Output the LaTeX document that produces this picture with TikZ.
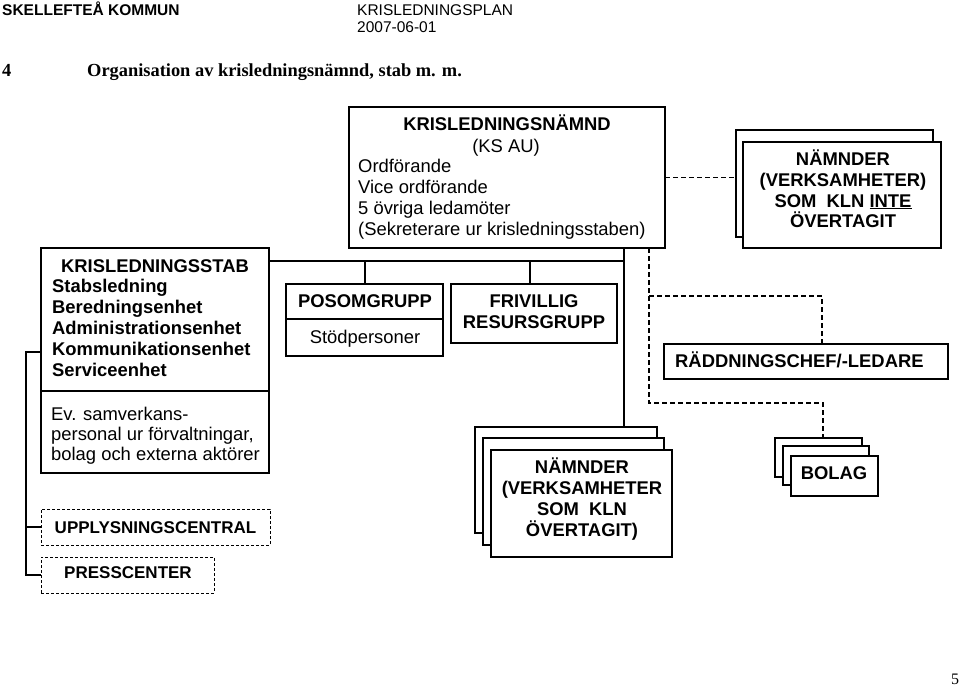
\documentclass[tikz,border=0pt]{standalone}
\usepackage{fontspec}
\setmainfont{Liberation Serif}
\setsansfont{Liberation Sans}
\newcommand{\myfs}[1]{\fontsize{#1}{#1}\selectfont}
\begin{document}
\begin{tikzpicture}[x=1pt,y=-1pt,
  box/.style={draw, line width=1.3pt, anchor=north west, inner sep=0pt, outer sep=0pt, fill=white},
  dbox/.style={draw, line width=1pt, dash pattern=on 3pt off 2pt, anchor=north west, inner sep=0pt, outer sep=0pt},
  conn/.style={line width=1.3pt},
  dconn/.style={line width=1.1pt, dash pattern=on 5pt off 3pt},
  txt/.style={anchor=base, inner sep=0pt, font=\sffamily\myfs{18.4}},
  txtl/.style={txt, anchor=base west},
  btxt/.style={anchor=base, inner sep=0pt, font=\sffamily\bfseries\myfs{18.4}},
  btxtl/.style={btxt, anchor=base west},
  stxt/.style={anchor=base, inner sep=0pt, font=\sffamily\bfseries\myfs{17}},
  hdr/.style={anchor=base west, inner sep=0pt},
]
\fill[white] (0,0) rectangle (960,690);
\useasboundingbox (0,0) rectangle (960,690);

% header
\node[hdr, font=\sffamily\bfseries\myfs{15.5}] (h1) at (2,16) {SKELLEFTEÅ KOMMUN};
\node[hdr, font=\sffamily\myfs{15.5}] (h2) at (357,16) {KRISLEDNINGSPLAN};
\node[hdr, font=\sffamily\myfs{15.5}] (h3) at (357,33) {2007-06-01};
\node[hdr, font=\rmfamily\bfseries\myfs{18.4}] (h4) at (2,77) {4};
\node[hdr, font=\rmfamily\bfseries\myfs{18.4}] (h5) at (87,77) {Organisation av krisledningsnämnd, stab m. m.};
\node[hdr, font=\rmfamily\myfs{16}] (pg) at (951,684) {5};

% boxes
\node[box, minimum width=316pt, minimum height=141pt] (nmd) at (349,107) {};
\node[box, minimum width=228pt, minimum height=225pt] (stab) at (41,248) {};
\node[box, minimum width=157pt, minimum height=72pt] (posom) at (286,284) {};
\node[box, minimum width=166pt, minimum height=59pt] (friv) at (451,284) {};
\node[box, minimum width=197pt, minimum height=107pt] (nam1b) at (736,130) {};
\node[box, minimum width=198pt, minimum height=106pt] (nam1f) at (743,142) {};
\node[box, minimum width=284pt, minimum height=35pt] (radd) at (664,344) {};
\node[box, minimum width=182pt, minimum height=106pt] (nam2b) at (475,427) {};
\node[box, minimum width=181pt, minimum height=107pt] (nam2m) at (483,438) {};
\node[box, minimum width=181pt, minimum height=107pt] (nam2f) at (491,450) {};
\node[box, minimum width=87pt, minimum height=39pt] (bolagb) at (775,438) {};
\node[box, minimum width=86pt, minimum height=39pt] (bolagm) at (783,446) {};
\node[box, minimum width=87pt, minimum height=40pt] (bolagf) at (791,456) {};
\node[dbox, minimum width=229pt, minimum height=36pt] (upply) at (41,509) {};
\node[dbox, minimum width=173pt, minimum height=36pt] (press) at (41,557) {};

% dividers
\coordinate (sd) at (0,391);
\coordinate (pd) at (0,319);
\draw[conn] (stab.west |- sd) -- (stab.east |- sd);
\draw[conn] (posom.west |- pd) -- (posom.east |- pd);

% solid connectors
\coordinate (jR) at (624,261);
\coordinate (jF) at (530,261);
\coordinate (jP) at (365,261);
\coordinate (jL) at (26,352);
\draw[conn] (stab.east |- jR) -- (jR);
\draw[conn] (jR |- nmd.south) -- (jR |- nam2b.north);
\draw[conn] (jP) -- (jP |- posom.north);
\draw[conn] (jF) -- (jF |- friv.north);
\draw[conn] (stab.west |- jL) -- (jL) -- (jL |- press.west) -- (press.west);
\draw[conn] (jL |- upply.west) -- (upply.west);

% dashed connectors
\coordinate (dB) at (649,296);
\coordinate (dC) at (649,403);
\coordinate (dD) at (822,296);
\coordinate (dE) at (823,403);
\draw[dconn] (nmd.east) -- (nmd.east -| nam1b.west);
\draw[dconn] (dB |- nmd.south) -- (dC) -- (dE) -- (dE |- bolagb.north);
\draw[dconn] (dB) -- (dD) -- (dD |- radd.north);

% texts: krisledningsnamnd
\node[btxt] (n1) at (507,130) {KRISLEDNINGSNÄMND};
\node[txt] (n2) at (506,152) {(KS AU)};
\node[txtl] (n3) at (358,172) {Ordförande};
\node[txtl] (n4) at (358,193) {Vice ordförande};
\node[txtl] (n5) at (358,214) {5 övriga ledamöter};
\node[txtl] (n6) at (358,235) {(Sekreterare ur krisledningsstaben)};

% krisledningsstab
\node[btxt] (s1) at (155,272) {KRISLEDNINGSSTAB};
\node[btxtl] (s2) at (52,292) {Stabsledning};
\node[btxtl] (s3) at (52,313) {Beredningsenhet};
\node[btxtl] (s4) at (52,334) {Administrationsenhet};
\node[btxtl] (s5) at (52,355) {Kommunikationsenhet};
\node[btxtl] (s6) at (52,376) {Serviceenhet};
\node[txtl] (s7) at (51,420) {Ev. samverkans-};
\node[txtl] (s8) at (51,440) {personal ur förvaltningar,};
\node[txtl] (s9) at (51,460) {bolag och externa aktörer};

% posom / frivillig
\node[btxt] (p1) at (365,307) {POSOMGRUPP};
\node[txt] (p2) at (365,343) {Stödpersoner};
\node[btxt] (f1) at (534,307) {FRIVILLIG};
\node[btxt] (f2) at (534,328) {RESURSGRUPP};

% namnder top right
\node[btxt] (a1) at (843,165) {NÄMNDER};
\node[btxt] (a2) at (843,186) {(VERKSAMHETER)};
\node[btxt] (a3) at (843,207) {SOM~~KLN \underline{INTE}};
\node[btxt] (a4) at (843,227) {ÖVERTAGIT};

% raddningschef
\node[btxtl] (r1) at (675,367) {RÄDDNINGSCHEF/-LEDARE};

% namnder bottom
\node[btxt] (b1) at (582,473) {NÄMNDER};
\node[btxt] (b2) at (582,494) {(VERKSAMHETER};
\node[btxt] (b3) at (582,515) {SOM~~KLN};
\node[btxt] (b4) at (582,536) {ÖVERTAGIT)};

% bolag
\node[btxt] (g1) at (834,479) {BOLAG};

% upplysning / press
\node[stxt] (u1) at (155.5,533) {UPPLYSNINGSCENTRAL};
\node[stxt] (u2) at (128,578) {PRESSCENTER};
\end{tikzpicture}
\end{document}
